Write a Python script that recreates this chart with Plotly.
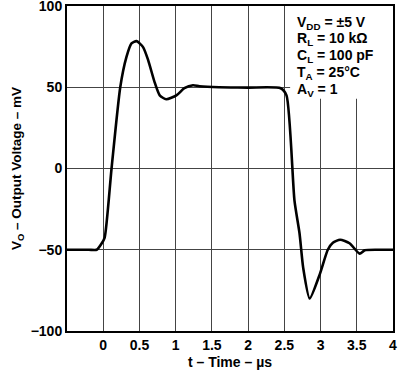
import plotly.graph_objects as go

t_us = [-0.5, -0.2, -0.09, -0.02, 0.02, 0.115, 0.235, 0.32, 0.39, 0.46, 0.55, 0.62, 0.71, 0.78, 0.87, 1.01, 1.12, 1.24, 1.33, 1.6, 2.0, 2.45, 2.53, 2.64, 2.71, 2.76, 2.85, 2.99, 3.1, 3.17, 3.27, 3.4, 3.54, 3.61, 3.8, 4.0]
vo_mv = [-50, -50, -50, -46, -42.5, 0, 50, 68.5, 77, 78.4, 74.7, 66.7, 53, 45, 42.6, 45, 49.4, 51.2, 50.6, 50, 49.8, 49.4, 45, -19.8, -40, -61, -80, -65, -50, -45.7, -43.8, -46, -52.4, -50.3, -50, -50]

x_ticks = [0, 0.5, 1, 1.5, 2, 2.5, 3, 3.5, 4]
x_tick_labels = ["0", "0.5", "1", "1.5", "2", "2.5", "3", "3.5", "4"]
y_ticks = [-100, -50, 0, 50, 100]
y_tick_labels = ["\u2212100", "\u221250", "0", "50", "100"]
conditions = ["V<sub>DD</sub> = \u00b15 V", "R<sub>L</sub> = 10 k\u03a9", "C<sub>L</sub> = 100 pF",
              "T<sub>A</sub> = 25\u00b0C", "A<sub>V</sub> = 1"]

FONT = "Liberation Sans, Arial, sans-serif"

fig = go.Figure()
fig.add_trace(go.Scatter(x=t_us, y=vo_mv, mode="lines",
                         line=dict(color="black", width=2.6, shape="spline", smoothing=0.6),
                         showlegend=False, hoverinfo="skip"))

fig.add_shape(type="rect", xref="x", yref="y", x0=2.58, x1=4, y0=43, y1=100,
              fillcolor="white", line=dict(width=0), layer="between")

for i, txt in enumerate(conditions):
    fig.add_annotation(x=2.65, y=96.5 - i * 10.3, xref="x", yref="y", text="<b>" + txt + "</b>",
                       showarrow=False, xanchor="left", yanchor="top",
                       font=dict(family=FONT, size=14, color="black"))

fig.update_layout(
    width=399, height=376,
    margin=dict(l=67, r=6, t=6, b=45, autoexpand=False),
    paper_bgcolor="white", plot_bgcolor="white",
    font=dict(family=FONT, size=14, color="black"),
    xaxis=dict(range=[-0.5, 4], tickvals=x_ticks, ticktext=["<b>%s</b>" % s for s in x_tick_labels],
               showgrid=True, gridcolor="#444", gridwidth=1, zeroline=False,
               showline=True, linecolor="black", linewidth=2, mirror=True, ticks="",
               tickfont=dict(size=14), ticklabeloverflow="allow", automargin=False,
               title=dict(text="<b>t \u2013 Time \u2013 \u00b5s</b>", standoff=5, font=dict(size=14))),
    yaxis=dict(range=[-100, 100], tickvals=y_ticks, ticktext=["<b>%s</b>" % s for s in y_tick_labels],
               showgrid=True, gridcolor="#444", gridwidth=1, zeroline=False,
               showline=True, linecolor="black", linewidth=2, mirror=True, ticks="",
               tickfont=dict(size=14), ticklabeloverflow="allow", automargin=False,
               title=dict(text="<b>V<sub>O</sub> \u2013 Output Voltage \u2013 mV</b>", standoff=6, font=dict(size=13.5))),
)

fig.write_html("out.html", config={"displayModeBar": False},
               post_script="document.body.style.margin='0';")
